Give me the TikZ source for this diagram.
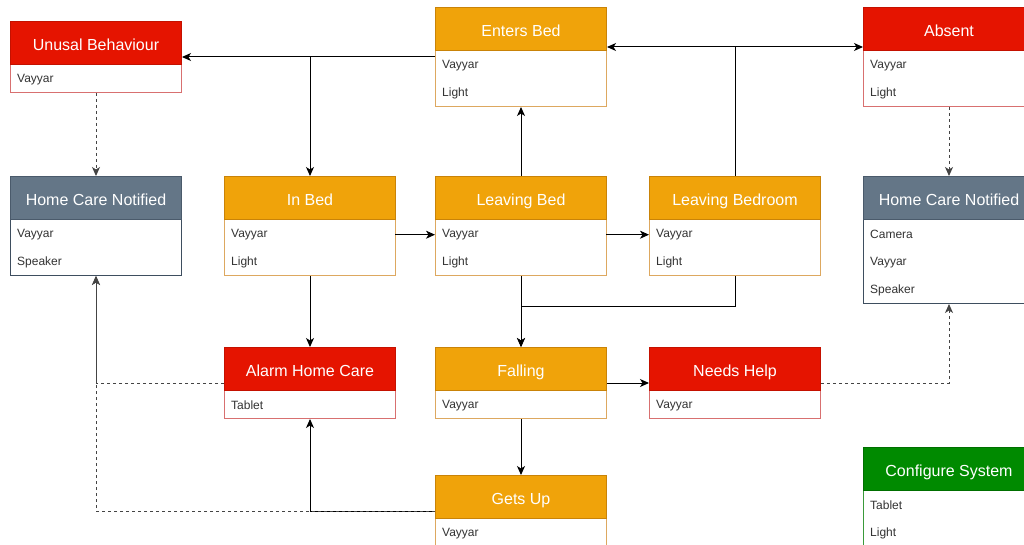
\documentclass[tikz,border=0pt]{standalone}
\usepackage{fontspec}
\setmainfont{Liberation Sans}
\usetikzlibrary{arrows.meta,calc}
\definecolor{orF}{HTML}{F0A30A}
\definecolor{orS}{HTML}{C98308}
\definecolor{orB}{HTML}{DDA860}
\definecolor{rdF}{HTML}{E51400}
\definecolor{rdS}{HTML}{C41100}
\definecolor{rdB}{HTML}{D87070}
\definecolor{gyF}{HTML}{647687}
\definecolor{gyS}{HTML}{4A5A6B}
\definecolor{gyB}{HTML}{3E4E5F}
\definecolor{gnF}{HTML}{008A00}
\definecolor{gnS}{HTML}{006F00}
\definecolor{gnB}{HTML}{3A9A3A}
\definecolor{rowtext}{HTML}{333333}
\definecolor{dashc}{HTML}{444444}
\tikzset{
  boxouter/.style={rectangle, anchor=north west, minimum width=171pt, fill=white, line width=1pt, inner sep=0pt},
  boxhead/.style={rectangle, anchor=north west, minimum width=171pt, minimum height=43pt, line width=1pt, text=white, font=\fontsize{16}{19}\selectfont, inner sep=0pt, text height=14.6pt, text depth=0pt},
  rowitem/.style={rectangle, anchor=north west, minimum width=171pt, minimum height=28pt, text width=157pt, inner xsep=7pt, inner ysep=0pt, align=left, font=\fontsize{12}{14}\selectfont, text=rowtext},
  conn/.style={line width=1pt, black, -{Stealth[length=9pt,width=8pt,inset=2.5pt]}},
  dconn/.style={line width=1pt, dashc, dash pattern=on 3pt off 3pt, -{Stealth[length=9pt,width=8pt,inset=2.5pt]}},
}
\newcommand\umlbox[7]{%
  \node[boxouter, draw=#5B, minimum height=#6] (#1) at (#2,#3) {};
  \node[boxhead, fill=#5F, draw=#5S] (#1-h) at (#2,#3) {#4};
  \foreach \t [count=\i] in {#7} {
    \node[rowitem] (#1-\i) at (#2,{#3+44.5+28*(\i-1)}) {\t};
  }
}
\begin{document}
\begin{tikzpicture}[x=1pt,y=-1pt]
\useasboundingbox (0,0) rectangle (1024,545);
\fill[white] (0,0) rectangle (1024,545);
\clip (0,0) rectangle (1024,545);

\umlbox{ub}{10}{21}{Unusal Behaviour}{rd}{71pt}{Vayyar}
\umlbox{hcnL}{10}{176}{Home Care Notified}{gy}{99pt}{Vayyar,Speaker}
\umlbox{inbed}{224}{176}{In Bed}{or}{99pt}{Vayyar,Light}
\umlbox{eb}{435}{7}{Enters Bed}{or}{99pt}{Vayyar,Light}
\umlbox{lb}{435}{176}{Leaving Bed}{or}{99pt}{Vayyar,Light}
\umlbox{lbr}{649}{176}{Leaving Bedroom}{or}{99pt}{Vayyar,Light}
\umlbox{absent}{863}{7}{Absent}{rd}{99pt}{Vayyar,Light}
\umlbox{hcnR}{863}{176}{Home Care Notified}{gy}{127pt}{Camera,Vayyar,Speaker}
\umlbox{alarm}{224}{347}{Alarm Home Care}{rd}{71pt}{Tablet}
\umlbox{falling}{435}{347}{Falling}{or}{71pt}{Vayyar}
\umlbox{needs}{649}{347}{Needs Help}{rd}{71pt}{Vayyar}
\umlbox{getsup}{435}{475}{Gets Up}{or}{71pt}{Vayyar}
\umlbox{config}{863}{447}{Configure System}{gn}{99pt}{Tablet,Light}

\path (eb.north east) ++(0,40) coordinate (ebin);
\path (absent.north west) ++(0,40) coordinate (abin);

% solid connectors
\draw[conn] (eb.west) -- (ub.east);
\draw[conn] (eb.west) -| (inbed.north);
\draw[conn] (lbr.north) |- (ebin);
\draw[conn] (lbr.north) |- (abin);
\draw[conn] (lb.north) -- (eb.south);
\draw[conn] (inbed-1.east) -- (lb-1.west);
\draw[conn] (lb-1.east) -- (lbr-1.west);
\draw[conn] (inbed.south) -- (alarm.north);
\draw[conn] (lb.south) -- (falling.north);
\draw[conn] (lbr.south) -- ++(0,30) -| (falling.north);
\draw[conn] (falling.east) -- (needs.west);
\draw[conn] (falling.south) -- (getsup.north);

% dashed connectors
\draw[conn] (getsup.west) -| (alarm.south);
\draw[dconn] (getsup.west) -| (hcnL.south);
\draw[dconn] (alarm.west) -| (hcnL.south);
\draw[dconn] (ub.south) -- (hcnL.north);
\draw[dconn] (absent.south) -- (hcnR.north);
\draw[dconn] (needs.east) -| (hcnR.south);
\end{tikzpicture}
\end{document}
